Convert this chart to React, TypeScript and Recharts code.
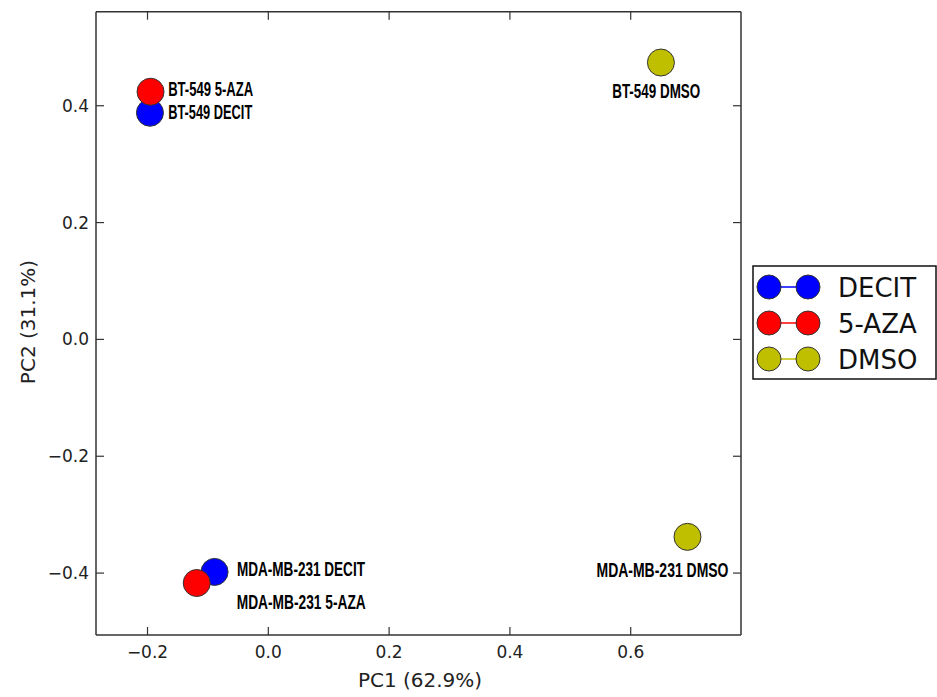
import React from 'react';
import { ScatterChart, Scatter, XAxis, YAxis } from 'recharts';

// ---- data ----
const xTicks = [-0.2, 0, 0.2, 0.4, 0.6];
const yTicks = [-0.4, -0.2, 0, 0.2, 0.4];
const xDomain = [-0.2853, 0.7826];
const yDomain = [-0.506, 0.561];

const decitPoints = [
  { x: -0.196, y: 0.388, label: 'BT-549 DECIT' },
  { x: -0.089, y: -0.398, label: 'MDA-MB-231 DECIT' },
];
const azaPoints = [
  { x: -0.195, y: 0.424, label: 'BT-549 5-AZA' },
  { x: -0.1185, y: -0.417, label: 'MDA-MB-231 5-AZA' },
];
const dmsoPoints = [
  { x: 0.65, y: 0.474, label: 'BT-549 DMSO' },
  { x: 0.694, y: -0.338, label: 'MDA-MB-231 DMSO' },
];
const seriesNames = ['DECIT', '5-AZA', 'DMSO'];
const xTitle = 'PC1 (62.9%)';
const yTitle = 'PC2 (31.1%)';

// ---- styles / layout ----
const colors: Record<string, string> = { DECIT: '#0000ff', '5-AZA': '#ff0000', DMSO: '#bfbf00' };
const AXIS = '#333333';
const TICK_FONT = "'DejaVu Sans', sans-serif";
const LABEL_FONT = "'Liberation Sans Narrow', 'Arial Narrow', 'Liberation Sans', sans-serif";

const labelPlacement: Record<string, { dx: number; dy: number; anchor: string; len: number }> = {
  'BT-549 5-AZA': { dx: 17.6, dy: 4.6, anchor: 'start', len: 85 },
  'BT-549 DECIT': { dx: 18.3, dy: 6.6, anchor: 'start', len: 84 },
  'BT-549 DMSO': { dx: -4.7, dy: 35.6, anchor: 'middle', len: 88 },
  'MDA-MB-231 DECIT': { dx: 22.4, dy: 3.6, anchor: 'start', len: 128 },
  'MDA-MB-231 5-AZA': { dx: 40, dy: 25.6, anchor: 'start', len: 129 },
  'MDA-MB-231 DMSO': { dx: 41, dy: 40.6, anchor: 'end', len: 132 },
};

const fmt = (v: number) => {
  const s = Math.abs(v).toFixed(1);
  return v < -1e-9 ? '\u2212' + s : s;
};

const TICK_LEN = 8;

const BottomTick = (p: any) => (
  <g>
    <line x1={p.x} x2={p.x} y1={p.y} y2={p.y - TICK_LEN} stroke={AXIS} strokeWidth={1.2} />
    <text x={p.x} y={p.y + 23} textAnchor="middle" fontSize={17} fontFamily={TICK_FONT} fill="#222">
      {fmt(p.payload.value)}
    </text>
  </g>
);
const TopTick = (p: any) => (
  <line x1={p.x} x2={p.x} y1={p.y} y2={p.y + TICK_LEN} stroke={AXIS} strokeWidth={1.2} />
);
const LeftTick = (p: any) => (
  <g>
    <line x1={p.x} x2={p.x + TICK_LEN} y1={p.y} y2={p.y} stroke={AXIS} strokeWidth={1.2} />
    <text x={p.x - 7} y={p.y + 6} textAnchor="end" fontSize={17} fontFamily={TICK_FONT} fill="#222">
      {fmt(p.payload.value)}
    </text>
  </g>
);
const RightTick = (p: any) => (
  <line x1={p.x} x2={p.x - TICK_LEN} y1={p.y} y2={p.y} stroke={AXIS} strokeWidth={1.2} />
);

const makeShape = (color: string) => (props: any) => {
  const { cx, cy, payload } = props;
  const lp = labelPlacement[payload.label];
  return (
    <g>
      <circle cx={cx} cy={cy} r={13.5} fill={color} stroke="#333" strokeWidth={1} />
      {lp && (
        <text
          x={cx + lp.dx}
          y={cy + lp.dy}
          textAnchor={lp.anchor as any}
          fontSize={21}
          fontWeight="bold"
          fontFamily={LABEL_FONT}
          fill="#000"
          textLength={lp.len}
          lengthAdjust="spacingAndGlyphs"
        >
          {payload.label}
        </text>
      )}
    </g>
  );
};

const Legend = () => (
  <svg
    width={185}
    height={115}
    style={{ position: 'absolute', left: 752, top: 265 }}
  >
    <rect x={1} y={1} width={183} height={113} fill="#fff" stroke="#111" strokeWidth={1.5} />
    {seriesNames.map((n, i) => {
      const cy = 22 + i * 36;
      return (
        <g key={n}>
          <line x1={17} x2={56} y1={cy} y2={cy} stroke={colors[n]} strokeWidth={1.5} />
          <circle cx={17} cy={cy} r={12} fill={colors[n]} stroke="#333" strokeWidth={1} />
          <circle cx={56} cy={cy} r={12} fill={colors[n]} stroke="#333" strokeWidth={1} />
          <text x={86} y={cy + 9.5} fontSize={26} fontFamily={TICK_FONT} fill="#111">
            {n}
          </text>
        </g>
      );
    })}
  </svg>
);

const axisCommon = {
  type: 'number' as const,
  interval: 0 as const,
  allowDataOverflow: true,
  tickSize: 0,
  tickMargin: 0,
  tickLine: false,
  axisLine: { stroke: AXIS, strokeWidth: 1.5 },
};

export default function App() {
  return (
    <div style={{ position: 'absolute', left: 0, top: 0, width: 937, height: 697, background: '#fff' }}>
      <ScatterChart
        width={937}
        height={697}
        margin={{ top: 10.7, right: 195, bottom: 61, left: 95 }}
      >
        <XAxis xAxisId="b" dataKey="x" domain={xDomain} ticks={xTicks} height={1} tick={BottomTick} {...axisCommon} />
        <XAxis xAxisId="t" orientation="top" dataKey="x" domain={xDomain} ticks={xTicks} height={1} tick={TopTick} {...axisCommon} />
        <YAxis yAxisId="l" dataKey="y" domain={yDomain} ticks={yTicks} width={1} tick={LeftTick} {...axisCommon} />
        <YAxis yAxisId="r" orientation="right" dataKey="y" domain={yDomain} ticks={yTicks} width={1} tick={RightTick} {...axisCommon} />
        <Scatter name="DECIT" data={decitPoints} xAxisId="b" yAxisId="l" isAnimationActive={false} shape={makeShape(colors.DECIT)} />
        <Scatter name="5-AZA" data={azaPoints} xAxisId="b" yAxisId="l" isAnimationActive={false} shape={makeShape(colors['5-AZA'])} />
        <Scatter name="DMSO" data={dmsoPoints} xAxisId="b" yAxisId="l" isAnimationActive={false} shape={makeShape(colors.DMSO)} />
      </ScatterChart>
      <div
        style={{ position: 'absolute', left: 420, top: 692, transform: 'translate(-50%, -100%)', fontFamily: TICK_FONT, fontSize: 20, color: '#222', whiteSpace: 'nowrap' }}
      >
        {xTitle}
      </div>
      <div
        style={{ position: 'absolute', left: 28, top: 322, transform: 'translate(-50%, -50%) rotate(-90deg)', fontFamily: TICK_FONT, fontSize: 20, color: '#222', whiteSpace: 'nowrap', lineHeight: '20px' }}
      >
        {yTitle}
      </div>
      <Legend />
    </div>
  );
}
